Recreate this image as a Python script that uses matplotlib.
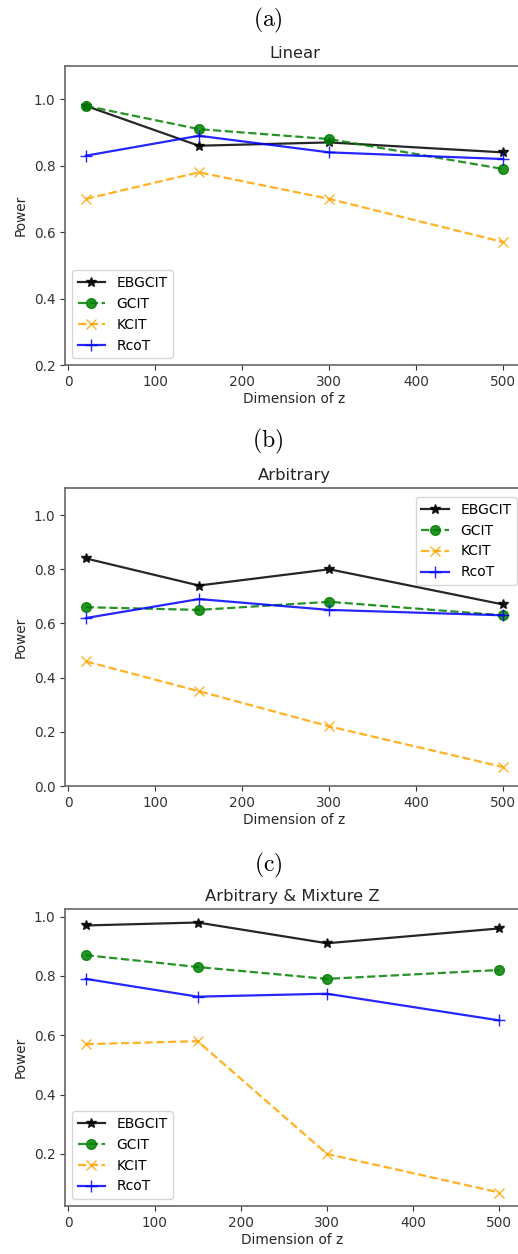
import matplotlib
matplotlib.use('Agg')
import matplotlib.pyplot as plt

plt.rcParams['font.family'] = 'DejaVu Sans'
plt.rcParams['mathtext.fontset'] = 'cm'

dims = [20, 150, 300, 500]
methods = ['EBGCIT', 'GCIT', 'KCIT', 'RcoT']

# power values
linear = {
    'EBGCIT': [0.98, 0.86, 0.87, 0.84],
    'GCIT': [0.98, 0.91, 0.88, 0.79],
    'KCIT': [0.70, 0.78, 0.70, 0.57],
    'RcoT': [0.83, 0.89, 0.84, 0.82],
}
arbitrary = {
    'EBGCIT': [0.84, 0.74, 0.80, 0.67],
    'GCIT': [0.66, 0.65, 0.68, 0.63],
    'KCIT': [0.46, 0.35, 0.22, 0.07],
    'RcoT': [0.62, 0.69, 0.65, 0.63],
}
mixture = {
    'EBGCIT': [0.97, 0.98, 0.91, 0.96],
    'GCIT': [0.87, 0.83, 0.79, 0.82],
    'KCIT': [0.57, 0.58, 0.20, 0.07],
    'RcoT': [0.79, 0.73, 0.74, 0.65],
}

styles = {
    'EBGCIT': dict(color='black', linestyle='-', marker='*', markersize=7),
    'GCIT': dict(color='green', linestyle='--', marker='o', markersize=7),
    'KCIT': dict(color='orange', linestyle='--', marker='x', markersize=7),
    'RcoT': dict(color='blue', linestyle='-', marker='+', markersize=8),
}

panels = [
    ('(a)', 'Linear', linear, 'lower left', (0.2, 1.1),
     [65, 66, 459, 299], 20),
    ('(b)', 'Arbitrary', arbitrary, 'upper right', (0.0, 1.1),
     [65, 488, 459, 298], 441),
    ('(c)', 'Arbitrary & Mixture Z', mixture, 'lower left', None,
     [65, 909, 455, 297], 865),
]

W, H = 518, 1254
fig = plt.figure(figsize=(W / 100, H / 100), dpi=100)

for tag, title, vals, loc, ylim, box, tag_y in panels:
    x0, y0, w, h = box
    ax = fig.add_axes([x0 / W, 1 - (y0 + h) / H, w / W, h / H])
    for m in methods:
        ax.plot(dims, vals[m], label=m, linewidth=1.6, alpha=0.85, **styles[m])
    if ylim is not None:
        ax.set_ylim(*ylim)
    ax.set_title(title, fontsize=11.8, color='#262626')
    ax.set_xlabel('Dimension of z', fontsize=9.8, color='#262626', labelpad=2)
    ax.set_ylabel('Power', fontsize=9.8, color='#262626')
    ax.tick_params(labelsize=9.8, colors='#333333')
    for sp in ax.spines.values():
        sp.set_color('#666666')
        sp.set_linewidth(1.2)
    if loc == 'upper right':
        # the right edge is clipped in the reference, so pin the legend to the visible part
        ax.legend(loc='upper right', bbox_to_anchor=((517 - x0) / w, 1 - (497 - y0) / h),
                  borderaxespad=0, fontsize=10, edgecolor='#cccccc')
    else:
        ax.legend(loc=loc, fontsize=10, edgecolor='#cccccc')
    fig.text(268 / W, 1 - tag_y / H, r'$\mathrm{' + tag + '}$',
             fontsize=17, ha='center', va='center')

fig.savefig('out.png', dpi=100)
